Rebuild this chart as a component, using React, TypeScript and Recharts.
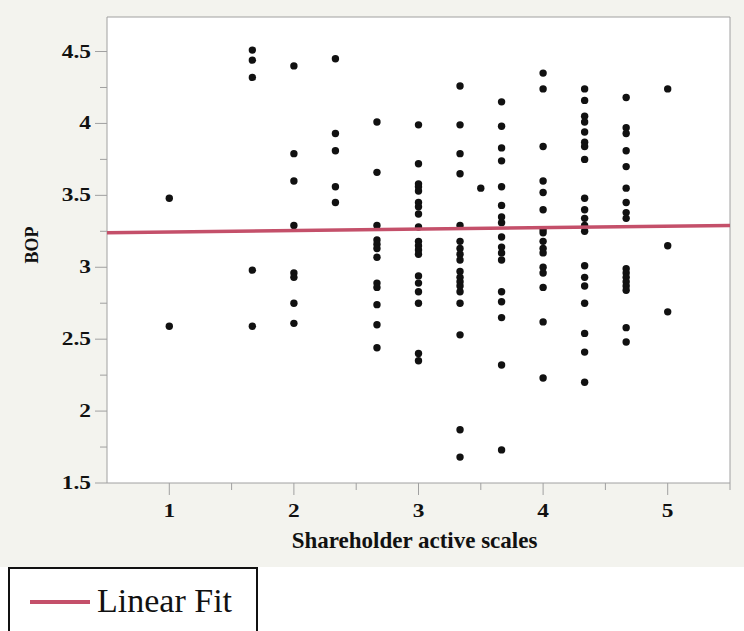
import React from 'react';
import {
  ScatterChart,
  Scatter,
  XAxis,
  YAxis,
  CartesianGrid,
  ReferenceLine,
} from 'recharts';

// x levels of the shareholder activity scale
const levels = [1, 5 / 3, 2, 7 / 3, 8 / 3, 3, 10 / 3, 3.5, 11 / 3, 4, 13 / 3, 14 / 3, 5];

// BOP values observed at each level (same order as levels)
const bopByLevel = [
  [3.48, 2.59],
  [4.51, 4.44, 4.32, 2.98, 2.59],
  [4.4, 3.79, 3.6, 3.29, 2.96, 2.93, 2.75, 2.61],
  [4.45, 3.93, 3.81, 3.56, 3.45],
  [4.01, 3.66, 3.29, 3.19, 3.16, 3.13, 3.07, 2.89, 2.86, 2.74, 2.6, 2.44],
  [3.99, 3.72, 3.58, 3.56, 3.53, 3.45, 3.42, 3.37, 3.28, 3.18, 3.15, 3.12, 3.09, 2.94, 2.89, 2.83, 2.75, 2.4, 2.35],
  [4.26, 3.99, 3.79, 3.65, 3.29, 3.18, 3.13, 3.09, 3.05, 2.97, 2.93, 2.9, 2.87, 2.83, 2.75, 2.53, 1.87, 1.68],
  [3.55],
  [4.15, 3.98, 3.83, 3.74, 3.56, 3.43, 3.35, 3.31, 3.21, 3.14, 3.1, 3.05, 2.83, 2.76, 2.65, 2.32, 1.73],
  [4.35, 4.24, 3.84, 3.6, 3.52, 3.4, 3.26, 3.24, 3.18, 3.13, 3.1, 3.0, 2.96, 2.86, 2.62, 2.23],
  [4.24, 4.16, 4.05, 4.01, 3.94, 3.87, 3.84, 3.75, 3.48, 3.4, 3.34, 3.29, 3.25, 3.01, 2.93, 2.87, 2.75, 2.54, 2.41, 2.2],
  [4.18, 3.97, 3.93, 3.81, 3.7, 3.55, 3.45, 3.38, 3.34, 2.99, 2.96, 2.93, 2.9, 2.87, 2.84, 2.58, 2.48],
  [4.24, 3.15, 2.69],
];

// linear fit end points
const fitX = [0.5, 5.5];
const fitY = [3.24, 3.29];

const xTicks = [1, 1.5, 2, 2.5, 3, 3.5, 4, 4.5, 5, 5.5];
const yTicks = [1.5, 1.75, 2, 2.25, 2.5, 2.75, 3, 3.25, 3.5, 3.75, 4, 4.25, 4.5];

const points = levels.flatMap((x, i) => bopByLevel[i].map((y) => ({ x, y })));
const fitData = fitX.map((x, i) => ({ x, y: fitY[i] }));

const FIT_COLOR = '#c4506a';
const AXIS_COLOR = '#a0a0a0';
const TEXT_COLOR = '#111';
const SERIF = '"Liberation Serif", "Times New Roman", serif';

const YTick = (props: any) => {
  const { x, y, payload } = props;
  const v = payload.value;
  const major = Number.isInteger(v * 2);
  return (
    <g>
      <line x1={x - (major ? 12 : 7)} x2={x} y1={y} y2={y} stroke={AXIS_COLOR} />
      {major && (
        <text
          transform={`translate(${x - 16},${y + 6}) scale(1.3,1)`}
          textAnchor="end"
          fontFamily={SERIF}
          fontWeight="bold"
          fontSize={18}
          fill={TEXT_COLOR}
        >
          {v}
        </text>
      )}
    </g>
  );
};

const XTick = (props: any) => {
  const { x, y, payload } = props;
  const v = payload.value;
  const major = Number.isInteger(v);
  return (
    <g>
      <line x1={x} x2={x} y1={y} y2={y + (major ? 12 : 7)} stroke={AXIS_COLOR} />
      {major && (
        <text
          transform={`translate(${x},${y + 34}) scale(1.3,1)`}
          textAnchor="middle"
          fontFamily={SERIF}
          fontWeight="bold"
          fontSize={18}
          fill={TEXT_COLOR}
        >
          {v}
        </text>
      )}
    </g>
  );
};

const XTitle = (props: any) => {
  const vb = props.viewBox || { x: 107, y: 483, width: 623 };
  return (
    <text
      x={vb.x + vb.width / 2 - 4}
      y={vb.y + 65}
      textAnchor="middle"
      fontFamily={SERIF}
      fontWeight="bold"
      fontSize={23}
      fill={TEXT_COLOR}
    >
      Shareholder active scales
    </text>
  );
};

const YTitle = (props: any) => {
  const vb = props.viewBox || { x: 0, y: 17, height: 466 };
  const cy = vb.y + vb.height / 2 - 5;
  return (
    <text
      x={38}
      y={cy}
      transform={`rotate(-90, 38, ${cy})`}
      textAnchor="middle"
      fontFamily={SERIF}
      fontWeight="bold"
      fontSize={18}
      fill={TEXT_COLOR}
    >
      BOP
    </text>
  );
};

const Dot = (props: any) => <circle cx={props.cx} cy={props.cy} r={3.7} fill="#111" />;
const NoDot = () => <g />;

export default function App() {
  return (
    <div
      style={{
        position: 'absolute',
        left: 0,
        top: 0,
        width: 744,
        height: 631,
        overflow: 'hidden',
        background: '#fff',
      }}
    >
      <div style={{ position: 'absolute', left: 0, top: 0, width: 744, height: 567, background: '#f3f3ee' }} />
      <div style={{ position: 'absolute', left: 0, top: 0 }}>
        <ScatterChart width={744} height={567} margin={{ top: 17, right: 14, bottom: 0, left: 0 }}>
          <CartesianGrid horizontal={false} vertical={false} fill="#fff" />
          <XAxis
            type="number"
            dataKey="x"
            domain={[0.5, 5.5]}
            ticks={xTicks}
            interval={0}
            allowDataOverflow
            height={84}
            stroke={AXIS_COLOR}
            tickLine={false}
            tickSize={0}
            tickMargin={0}
            tick={<XTick />}
            label={XTitle}
          />
          <YAxis
            type="number"
            dataKey="y"
            domain={[1.5, 4.74]}
            ticks={yTicks}
            interval={0}
            allowDataOverflow
            width={107}
            stroke={AXIS_COLOR}
            tickLine={false}
            tickSize={0}
            tickMargin={0}
            tick={<YTick />}
            label={YTitle}
          />
          <ReferenceLine y={4.74} stroke={AXIS_COLOR} />
          <ReferenceLine x={5.5} stroke={AXIS_COLOR} />
          <Scatter data={points} shape={Dot} isAnimationActive={false} />
          <Scatter
            data={fitData}
            shape={NoDot}
            line={{ stroke: FIT_COLOR, strokeWidth: 3.5 }}
            isAnimationActive={false}
          />
        </ScatterChart>
      </div>
      <svg style={{ position: 'absolute', left: 0, top: 567 }} width={744} height={64}>
        <rect x={9} y={1} width={248} height={80} fill="#fff" stroke="#111" strokeWidth={2} />
        <line x1={30} x2={90} y1={35} y2={35} stroke={FIT_COLOR} strokeWidth={4} />
        <text x={97} y={45} fontFamily={SERIF} fontSize={34} fill={TEXT_COLOR}>
          Linear Fit
        </text>
      </svg>
    </div>
  );
}
